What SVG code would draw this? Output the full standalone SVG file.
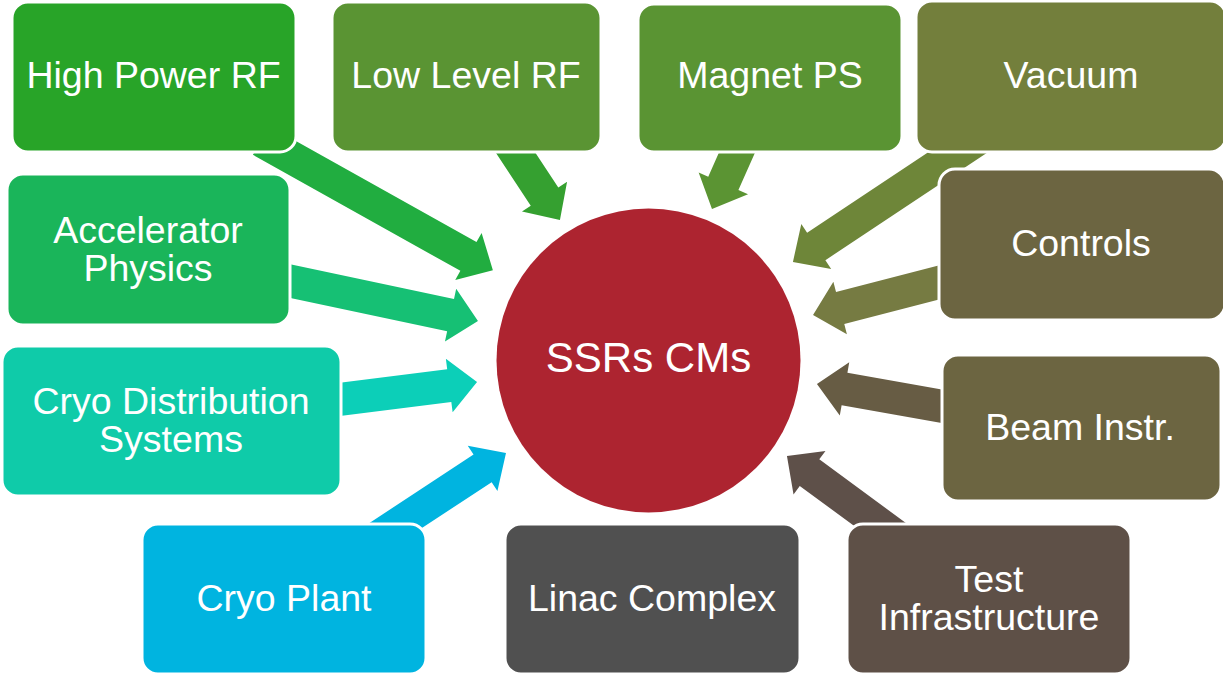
<svg xmlns="http://www.w3.org/2000/svg" width="1223" height="678" viewBox="0 0 1223 678">
<style>
  .box { stroke: #ffffff; stroke-width: 3; }
  .lbl { font-family: "Liberation Sans", Arial, sans-serif; font-size: 37.5px; fill: #ffffff; text-anchor: middle; }
  .big { font-size: 42px; }
</style>
<rect width="1223" height="678" fill="#ffffff"/>
<g id="connectors">
  <path fill="#21ad40" transform="translate(261,140.4) rotate(29.23)" d="M0,-16.5 H237.7 V-27 L265.7,0 L237.7,27 V16.5 H0 Z"/>
  <path fill="#35a030" transform="translate(494,120) rotate(56.6)" d="M0,-16.5 H91.8 V-27 L119.8,0 L91.8,27 V16.5 H0 Z"/>
  <path fill="#5b9433" transform="translate(747,130) rotate(113.9)" d="M0,-16.5 H58.4 V-27 L86.4,0 L58.4,27 V16.5 H0 Z"/>
  <path fill="#6e8639" transform="translate(990,131) rotate(146.4)" d="M0,-16.5 H208.6 V-27 L236.6,0 L208.6,27 V16.5 H0 Z"/>
  <path fill="#767b42" transform="translate(960,277) rotate(165.5)" d="M0,-16.5 H123.8 V-27 L151.8,0 L123.8,27 V16.5 H0 Z"/>
  <path fill="#675c44" transform="translate(960,409.5) rotate(190.1)" d="M0,-16.5 H117.3 V-27 L145.3,0 L117.3,27 V16.5 H0 Z"/>
  <path fill="#5e5049" transform="translate(908,545) rotate(216.3)" d="M0,-16.5 H122.2 V-27 L150.2,0 L122.2,27 V16.5 H0 Z"/>
  <path fill="#00b4e0" transform="translate(366,545) rotate(-33.3)" d="M0,-16.5 H139.5 V-27 L167.5,0 L139.5,27 V16.5 H0 Z"/>
  <path fill="#0ccfb8" transform="translate(330,400.6) rotate(-7.2)" d="M0,-16.5 H120.2 V-27 L148.2,0 L120.2,27 V16.5 H0 Z"/>
  <path fill="#16c074" transform="translate(275,277.8) rotate(12.0)" d="M0,-16.5 H179.5 V-27 L207.5,0 L179.5,27 V16.5 H0 Z"/>
</g>
<g id="node-high-power-rf">
  <rect class="box" x="12" y="2" width="284" height="150" rx="16" fill="#28a428"/>
  <text class="lbl" x="153.5" y="88">High Power RF</text>
</g>
<g id="node-low-level-rf">
  <rect class="box" x="332" y="2" width="269" height="150" rx="16" fill="#5a9433"/>
  <text class="lbl" x="466" y="88">Low Level RF</text>
</g>
<g id="node-magnet-ps">
  <rect class="box" x="638" y="4" width="264" height="148" rx="16" fill="#5a9433"/>
  <text class="lbl" x="770" y="88">Magnet PS</text>
</g>
<g id="node-vacuum">
  <rect class="box" x="916" y="1" width="310" height="151" rx="16" fill="#737f3c"/>
  <text class="lbl" x="1071" y="88">Vacuum</text>
</g>
<g id="node-accelerator-physics">
  <rect class="box" x="7" y="174" width="283" height="151" rx="16" fill="#1ab55a"/>
  <text class="lbl" x="148" y="243">Accelerator</text>
  <text class="lbl" x="148" y="281">Physics</text>
</g>
<g id="node-controls">
  <rect class="box" x="939" y="169" width="286" height="151" rx="16" fill="#6c6541"/>
  <text class="lbl" x="1081" y="256">Controls</text>
</g>
<g id="node-cryo-distribution">
  <rect class="box" x="2" y="346" width="339" height="150" rx="16" fill="#0fcba9"/>
  <text class="lbl" x="171" y="414">Cryo Distribution</text>
  <text class="lbl" x="171" y="452">Systems</text>
</g>
<g id="node-beam-instr">
  <rect class="box" x="942" y="355" width="279" height="146" rx="16" fill="#6c6541"/>
  <text class="lbl" x="1080" y="440">Beam Instr.</text>
</g>
<g id="node-cryo-plant">
  <rect class="box" x="142" y="524" width="284" height="150" rx="16" fill="#00b4e0"/>
  <text class="lbl" x="284" y="611">Cryo Plant</text>
</g>
<g id="node-linac-complex">
  <rect class="box" x="505" y="524" width="295" height="150" rx="16" fill="#505050"/>
  <text class="lbl" x="652" y="611">Linac Complex</text>
</g>
<g id="node-test-infrastructure">
  <rect class="box" x="847" y="524" width="284" height="150" rx="16" fill="#5e5047"/>
  <text class="lbl" x="989" y="592">Test</text>
  <text class="lbl" x="989" y="630">Infrastructure</text>
</g>
<g id="node-ssrs-cms">
  <circle cx="648.5" cy="360.5" r="152" fill="#ad2430"/>
  <text class="lbl big" x="648.5" y="372">SSRs CMs</text>
</g>
</svg>
